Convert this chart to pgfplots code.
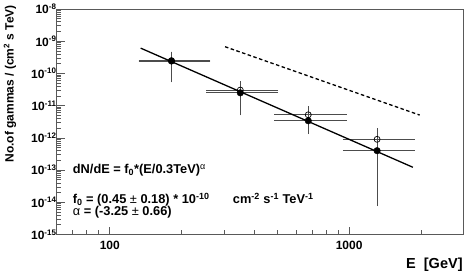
\documentclass[border=0pt]{standalone}
\usepackage{pgfplots}
\pgfplotsset{compat=1.18}
\usepackage{fontspec}
\setmainfont{Liberation Sans}
\definecolor{axgray}{gray}{0.35}
\definecolor{ebgray}{gray}{0.3}
\begin{document}
\begin{tikzpicture}
\begin{axis}[
  name=ax,
  at={(0,0)}, anchor=south west,
  scale only axis,
  width=406.6pt, height=225.5pt,
  xmode=log, ymode=log,
  xmin=60, xmax=3000, ymin=1e-15, ymax=1e-8,
  axis line style={axgray, line width=0.9pt},
  tick style={axgray, line width=0.7pt},
  xtick pos=bottom, ytick pos=left,
  tick align=inside,
  major tick length=8pt, minor tick length=4.5pt,
  xtick={100,1000},
  xticklabels={100,1000},
  minor xtick={70,80,90,200,300,400,500,600,700,800,900,2000},
  ytick={1e-15,1e-14,1e-13,1e-12,1e-11,1e-10,1e-9,1e-8},
  yticklabels={10\textsuperscript{-15},10\textsuperscript{-14},10\textsuperscript{-13},10\textsuperscript{-12},10\textsuperscript{-11},10\textsuperscript{-10},10\textsuperscript{-9},10\textsuperscript{-8}},
  ticklabel style={font=\bfseries\fontsize{12}{14}\selectfont},
  yticklabel style={inner sep=1pt, xshift=1pt},
  xticklabel style={yshift=-3pt},
  clip=false,
]
% open-circle series error bars
\addplot[ebgray, line width=0.7pt, mark=none, draw=none,
  error bars/.cd, x dir=both, y dir=both, x explicit, y explicit,
  error bar style={ebgray, line width=0.7pt},
  error mark options={ebgray, mark size=2pt, line width=0.7pt}]
  coordinates {
  (181,2.5e-10) -= (46.4,1.8e-10) += (77,1.6e-10)
  (351,3.05e-11) -= (93,1.45e-11) += (144,1.85e-11)
  (675,5.2e-12) -= (180,2.2e-12) += (284,3.2e-12)
  (1309,9.0e-13) -= (350,8.79e-13) += (539,8.5e-13)
  };
% filled series error bars
\addplot[black, line width=0.7pt, mark=none, draw=none,
  error bars/.cd, x dir=both, y dir=both, x explicit, y explicit,
  error bar style={ebgray, line width=0.7pt},
  error mark options={ebgray, mark size=2pt, line width=0.7pt}]
  coordinates {
  (181,2.43e-10) -= (46.4,1.82e-10) += (77,1.67e-10)
  (351,2.5e-11) -= (93,1.92e-11) += (144,1.3e-11)
  (675,3.4e-12) -= (180,1.9e-12) += (284,1.6e-12)
  (1309,4.0e-13) -= (350,3.913e-13) += (539,8.0e-13)
  };
% fitted power law
\addplot[black, line width=1.3pt, mark=none] coordinates {(134.6,6.1e-10) (1848,1.22e-13)};
% dashed reference
\addplot[black, line width=1.3pt, dash pattern=on 3.5pt off 2.5pt, mark=none] coordinates {(303,6.75e-10) (1972,5.1e-12)};
% open markers
\addplot[only marks, mark=o, mark size=3pt, mark options={black, line width=0.7pt, fill=white}]
  coordinates {(181,2.5e-10) (351,3.05e-11) (675,5.2e-12) (1309,9.0e-13)};
% filled markers
\addplot[only marks, mark=*, mark size=3.3pt, mark options={black, fill=black}]
  coordinates {(181,2.43e-10) (351,2.5e-11) (675,3.4e-12) (1309,4.0e-13)};
\end{axis}
\node[anchor=base west, inner sep=0pt, font=\bfseries\fontsize{12.8}{15}\selectfont]
  at ([xshift=16pt,yshift=61pt]ax.south west) {dN/dE = f\textsubscript{0}*(E/0.3TeV)\textsuperscript{\mdseries α}};
\node[anchor=base west, inner sep=0pt, font=\bfseries\fontsize{12.8}{15}\selectfont]
  at ([xshift=16pt,yshift=31pt]ax.south west) {f\textsubscript{0} = (0.45 {\mdseries ±} 0.18) * 10\textsuperscript{-10}};
\node[anchor=base west, inner sep=0pt, font=\bfseries\fontsize{12.8}{15}\selectfont]
  at ([xshift=176pt,yshift=31pt]ax.south west) {cm\textsuperscript{-2} s\textsuperscript{-1} TeV\textsuperscript{-1}};
\node[anchor=base west, inner sep=0pt, font=\bfseries\fontsize{12.8}{15}\selectfont]
  at ([xshift=16pt,yshift=19pt]ax.south west) {{\mdseries α} = (-3.25 {\mdseries ±} 0.66)};
\node[rotate=90, anchor=east, inner sep=0pt, font=\bfseries\fontsize{12}{14}\selectfont]
  at ([xshift=-46.7pt,yshift=4pt]ax.north west) {No.of gammas / (cm\textsuperscript{2} s TeV)};
\node[anchor=south east, inner sep=0pt, font=\bfseries\fontsize{14.5}{17}\selectfont]
  at ([xshift=-0.5pt,yshift=-37.5pt]ax.south east) {E\ \ [GeV]};
\pgfresetboundingbox
\path[use as bounding box] ([xshift=-56.7pt,yshift=-38.5pt]ax.south west) rectangle ([xshift=1.7pt,yshift=9pt]ax.north east);
\end{tikzpicture}
\end{document}
